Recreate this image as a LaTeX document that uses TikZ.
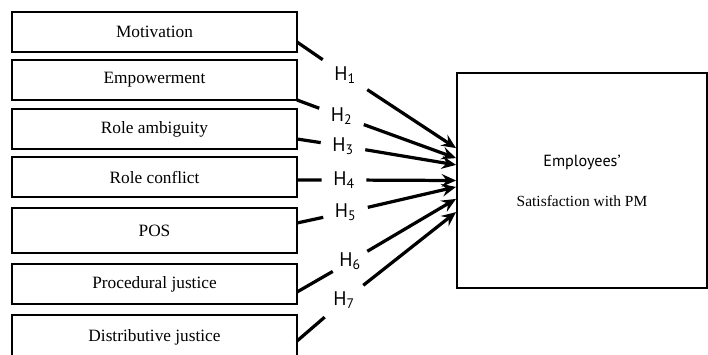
\documentclass[tikz,border=0pt]{standalone}
\usepackage{fontspec}
\setmainfont{Liberation Serif}
\newfontfamily\hfont{PT Sans}
\usetikzlibrary{positioning, arrows.meta}

\begin{document}
\begin{tikzpicture}[box/.style={rectangle, draw=black, line width=1.4pt, outer sep=0pt, minimum width=7.125cm, minimum height=1cm, font=\fontsize{12.3}{14}\selectfont},
        hyp/.style={minimum size=1.1cm, inner sep=0pt, font=\hfont\fontsize{14}{16}\selectfont},
        link/.style={line width=2.3pt},
        arr/.style={link, -{Stealth[length=3.6mm, width=3.2mm, inset=1.3mm]}},
        node distance=0.2cm
    ]
    \useasboundingbox (0,0) rectangle (17.7,8.85);
    % antecedents
    \node[box] (mot) at (3.8625,8.05) {Motivation};
    \node[box, below=0.2cm of mot] (emp) {Empowerment};
    \node[box, below=0.225cm of emp] (amb) {Role ambiguity};
    \node[box, below=0.2cm of amb] (con) {Role conflict};
    \node[box, below=0.275cm of con, minimum height=1.125cm] (pos) {POS};
    \node[box, below=0.275cm of pos] (pro) {Procedural justice};
    \node[box, below=0.275cm of pro, minimum height=1.1cm] (dis) {Distributive justice};
    % outcome
    \node[draw=black, line width=1.4pt, minimum width=6.25cm, minimum height=5.375cm, align=center, font=\fontsize{11}{14}\selectfont] (sat) at (14.55,4.3375)
        {{\hfont\fontsize{11.5}{14}\selectfont Employees’}\\[14.5pt] Satisfaction with PM};
    % hypotheses
    \node[hyp] (h1) at (8.625,6.975) {H\textsubscript{1}};
    \node[hyp] (h2) at (8.5375,5.9375) {H\textsubscript{2}};
    \node[hyp] (h3) at (8.575,5.2) {H\textsubscript{3}};
    \node[hyp] (h4) at (8.6,4.35) {H\textsubscript{4}};
    \node[hyp] (h5) at (8.6375,3.5375) {H\textsubscript{5}};
    \node[hyp, minimum width=0.85cm] (h6) at (8.75,2.3125) {H\textsubscript{6}};
    \node[hyp, minimum width=0.95cm] (h7) at (8.6,1.3375) {H\textsubscript{7}};
    \foreach \src/\sy/\h/\ty in {mot/-0.25/h1/0.81, emp/-0.5/h2/0.56, amb/-0.25/h3/0.39, con/-0.075/h4/0, pos/0.1875/h5/-0.16, pro/-0.2/h6/-0.46, dis/-0.1/h7/-0.79}
    {
        \draw[link] ([yshift=\sy cm]\src.east) -- (\h);
        \draw[arr] (\h) -- ([yshift=\ty cm]sat.west);
    }
\end{tikzpicture}
\end{document}
